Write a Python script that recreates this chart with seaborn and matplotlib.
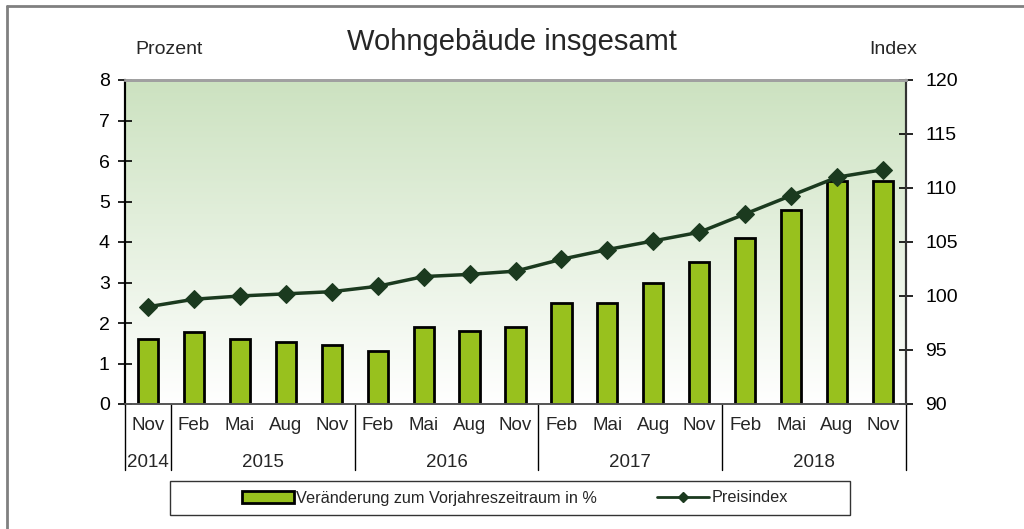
import numpy as np
import pandas as pd
import matplotlib
matplotlib.use("Agg")
import matplotlib.pyplot as plt
import matplotlib.transforms as mtransforms
from matplotlib.patches import Patch, Rectangle
from matplotlib.lines import Line2D
import seaborn as sns

# ---- data ----
months = ["Nov", "Feb", "Mai", "Aug", "Nov", "Feb", "Mai", "Aug", "Nov",
          "Feb", "Mai", "Aug", "Nov", "Feb", "Mai", "Aug", "Nov"]
years = ["2014", "2015", "2015", "2015", "2015", "2016", "2016", "2016", "2016",
         "2017", "2017", "2017", "2017", "2018", "2018", "2018", "2018"]
change_pct = [1.6, 1.78, 1.6, 1.53, 1.45, 1.3, 1.9, 1.8, 1.9,
              2.5, 2.5, 3.0, 3.5, 4.1, 4.8, 5.5, 5.5]
price_index = [99.0, 99.7, 100.0, 100.2, 100.4, 100.9, 101.8, 102.0, 102.3,
               103.4, 104.3, 105.1, 105.9, 107.6, 109.3, 111.0, 111.7]
year_labels = ["2014", "2015", "2016", "2017", "2018"]
title = "Wohngebäude insgesamt"
bar_label = "Veränderung zum Vorjahreszeitraum in %"
line_label = "Preisindex"

sns.set_style("white")
plt.rcParams['font.family'] = ['Liberation Sans', 'DejaVu Sans']

BAR_C = "#98c11e"
LINE_C = "#1b3a1f"
FS = 14
CFS = 13.5

df = pd.DataFrame({"period": [f"{m} {y}" for m, y in zip(months, years)],
                   "pct": change_pct, "idx": price_index,
                   "pos": np.arange(len(months))})

fig = plt.figure(figsize=(10.24, 5.29), dpi=100)
ax = fig.add_axes([125/1024, 1-404/529, 781/1024, 324/529])

# gradient background
grad = np.linspace(0, 1, 256).reshape(-1, 1)
top = np.array([0.80, 0.886, 0.753])
bot = np.array([1.0, 1.0, 1.0])
img = top[None, None, :] * (1 - grad[..., None]) + bot[None, None, :] * grad[..., None]
ax.imshow(img, extent=[-0.5, 16.5, 0, 8], aspect='auto', origin='upper', zorder=0)

sns.barplot(data=df, x="period", y="pct", color=BAR_C, edgecolor="black",
            linewidth=2, width=0.44, saturation=1, ax=ax, zorder=2)
ax.set_xlim(-0.5, 16.5)
ax.set_ylim(0, 8)
ax.set_yticks(range(0, 9))
ax.set_xlabel("")
ax.set_ylabel("")
ax.set_xticks(range(len(months)))
ax.set_xticklabels([])
ax.tick_params(axis='x', length=0)
ax.tick_params(axis='y', direction='inout', length=10, width=1.2, labelsize=FS, pad=6, colors='black')

ax2 = ax.twinx()
sns.lineplot(data=df, x="pos", y="idx", color=LINE_C, marker="D", markersize=9,
             markeredgecolor=LINE_C, linewidth=2.5, ax=ax2, zorder=3)
ax2.set_xlim(-0.5, 16.5)
ax2.set_ylim(90, 120)
ax2.set_yticks(range(90, 121, 5))
ax2.set_xlabel("")
ax2.set_ylabel("")
ax2.tick_params(axis='y', direction='inout', length=10, width=1.2, labelsize=FS, pad=9, colors='black')

for a in (ax, ax2):
    a.spines['top'].set_color('#a0a0a0')
    a.spines['top'].set_linewidth(2)
    a.spines['bottom'].set_color('#555555')
    a.spines['bottom'].set_linewidth(1.2)
    a.spines['left'].set_color('black')
    a.spines['left'].set_linewidth(1.5)
    a.spines['right'].set_color('#333333')
    a.spines['right'].set_linewidth(1.5)

# category labels
trans = mtransforms.blended_transform_factory(ax.transData, ax.transAxes)
for i, m in enumerate(months):
    ax.text(i, -0.065, m, transform=trans, ha='center', va='center', fontsize=CFS)
bounds = [-0.5, 0.5, 4.5, 8.5, 12.5, 16.5]
for j, yl in enumerate(year_labels):
    ax.text((bounds[j] + bounds[j+1]) / 2, -0.182, yl, transform=trans,
            ha='center', va='center', fontsize=CFS)
for b in bounds:
    ax.plot([b, b], [0, -0.204], transform=trans, color='black', lw=1, clip_on=False)

# titles
fig.text(512/1024, 1-42/529, title, ha='center', va='center', fontsize=21)
fig.text(169/1024, 1-50/529, "Prozent", ha='center', va='center', fontsize=FS)
fig.text(893/1024, 1-49/529, "Index", ha='center', va='center', fontsize=FS)

# legend
handles = [Patch(facecolor=BAR_C, edgecolor='black', linewidth=2),
           Line2D([], [], color=LINE_C, marker='D', markersize=5, linewidth=2)]
fig.legend(handles, [bar_label, line_label], loc='center',
           bbox_to_anchor=(0.503, 1-498/529), ncol=2, frameon=False,
           handlelength=3.2, handletextpad=0.12, columnspacing=3.7, fontsize=11.7)
fig.patches.append(Rectangle((170/1024, 1-515/529), 680/1024, 34/529,
                             transform=fig.transFigure, fill=False,
                             edgecolor='#333333', linewidth=1))

# outer border (top and left visible)
fig.add_artist(Line2D([7/1024, 1.0], [1-6/529, 1-6/529], transform=fig.transFigure,
                      color='#808080', lw=2))
fig.add_artist(Line2D([7/1024, 7/1024], [1-6/529, 0], transform=fig.transFigure,
                      color='#808080', lw=2))

fig.savefig("out.png", dpi=100)
